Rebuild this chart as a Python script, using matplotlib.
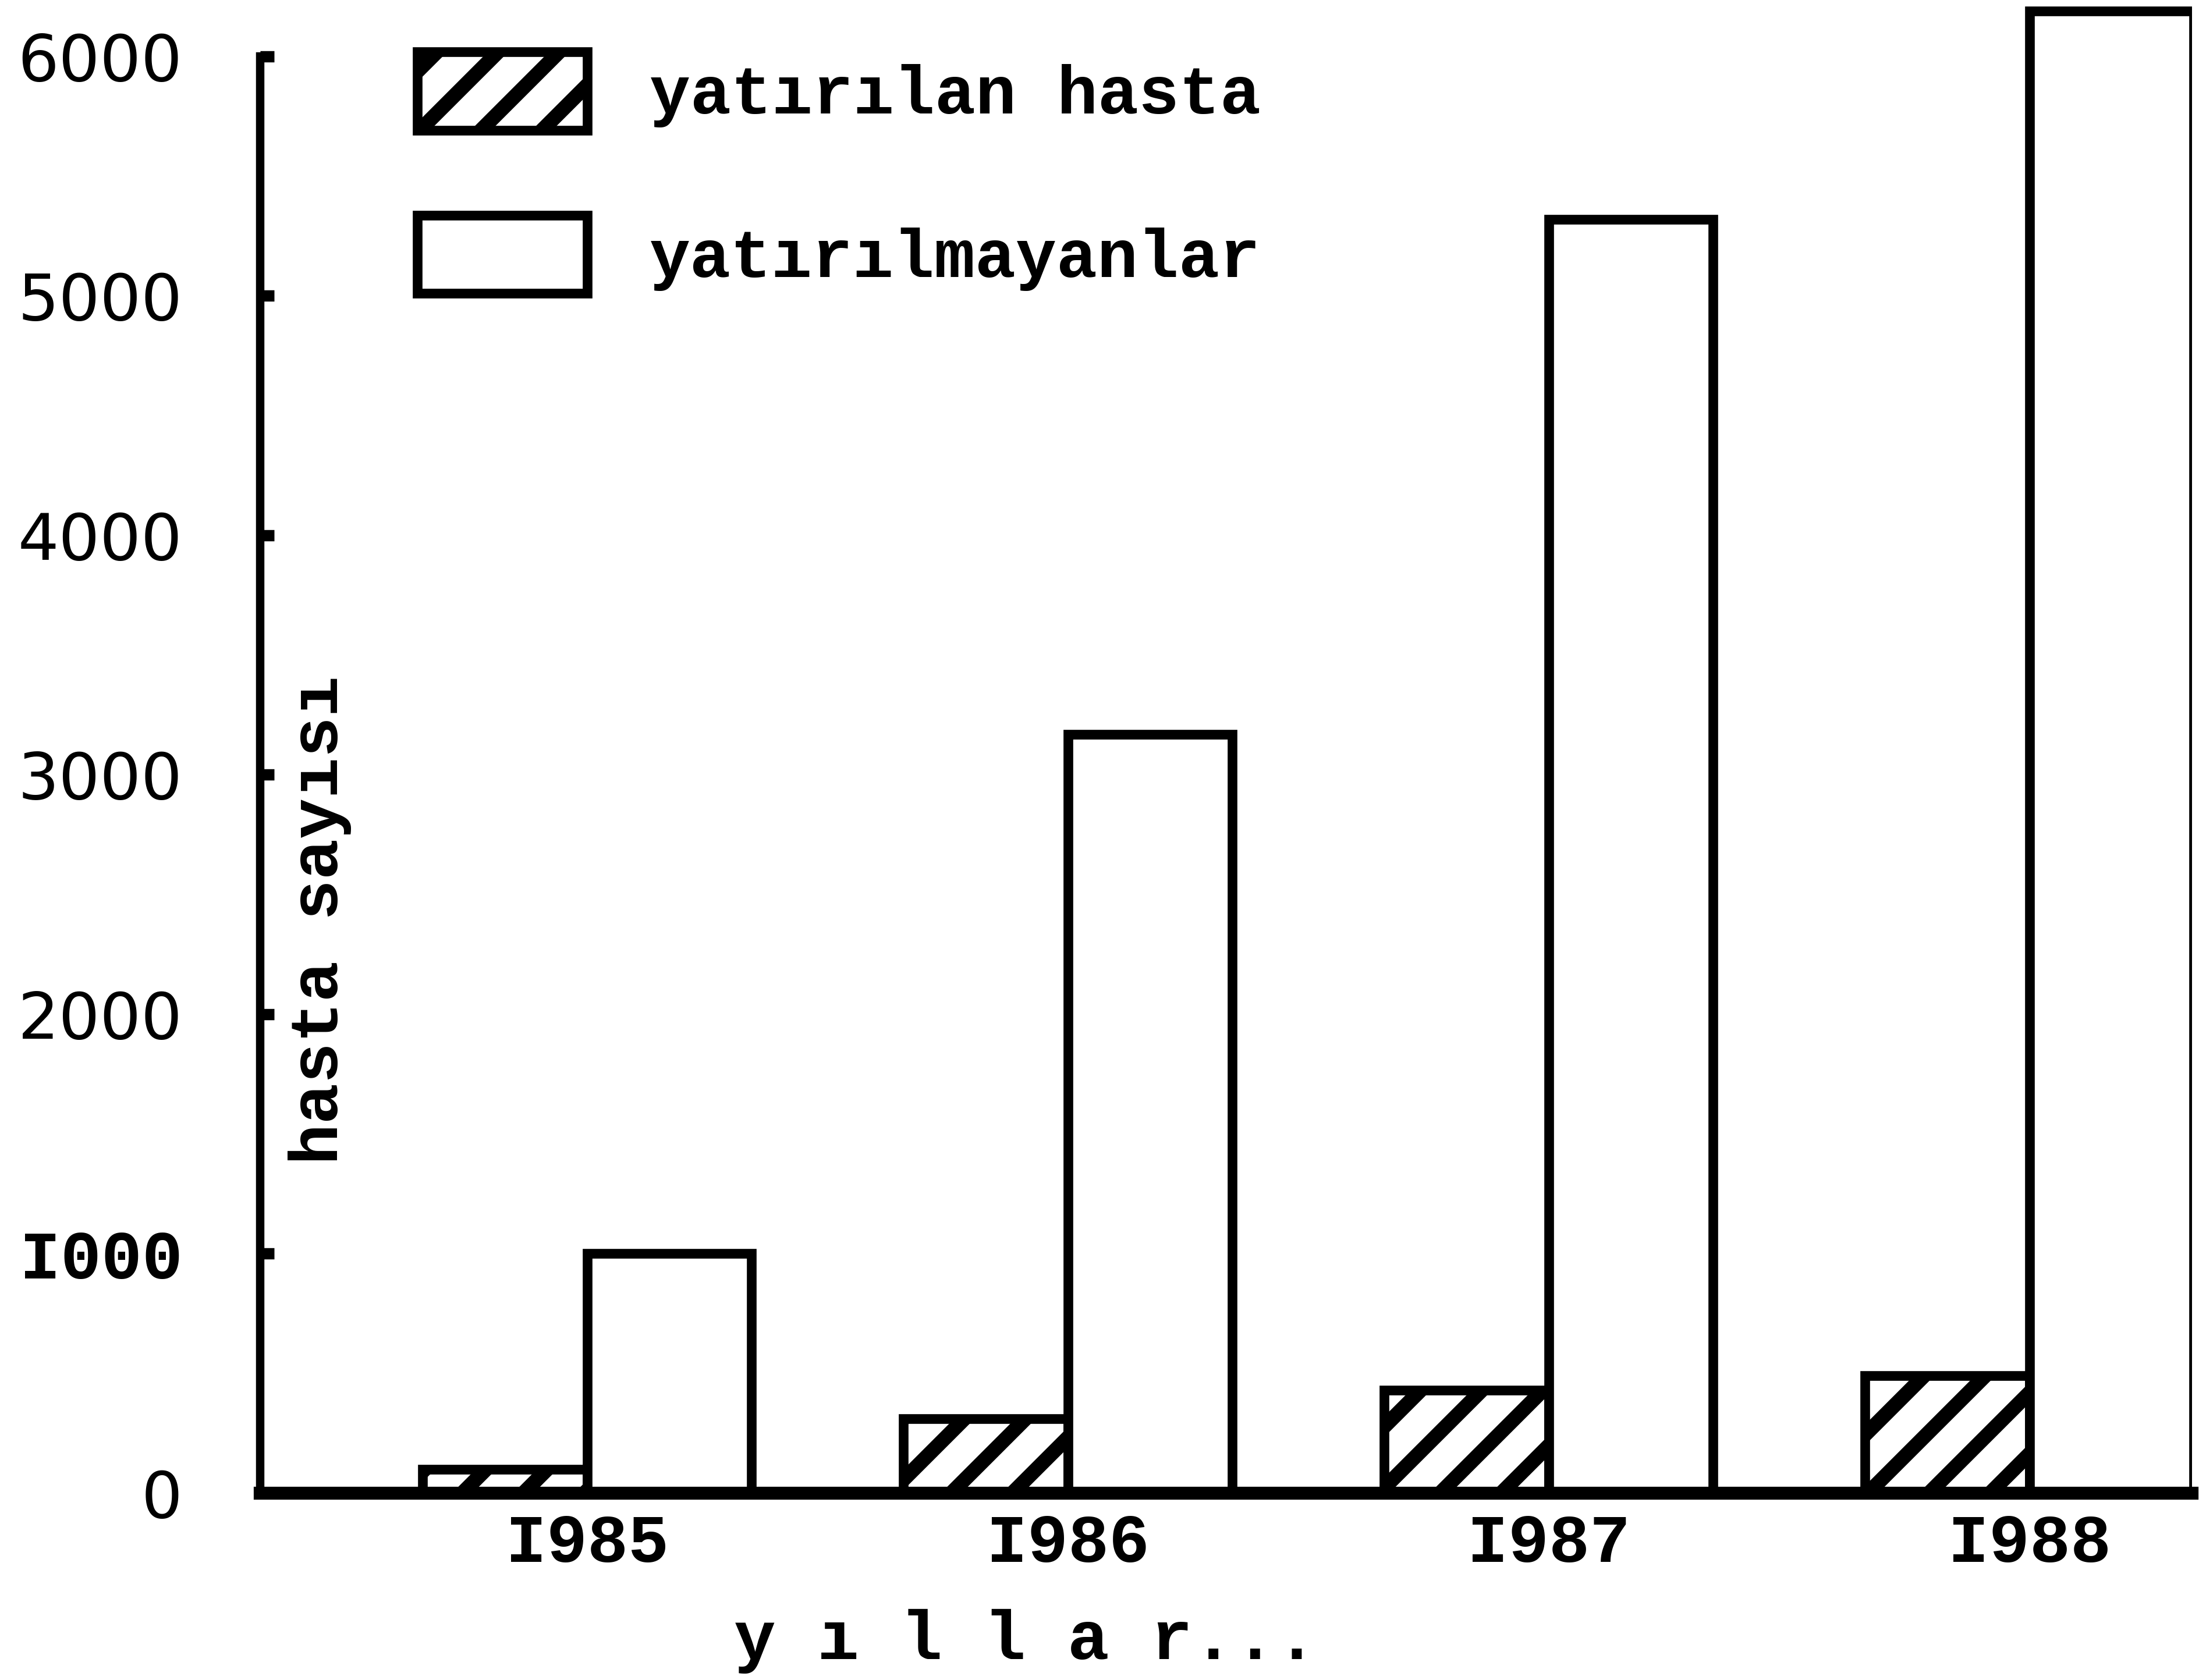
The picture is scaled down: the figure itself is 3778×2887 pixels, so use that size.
import matplotlib
matplotlib.use("Agg")
import matplotlib.pyplot as plt
import numpy as np

# data
years = ["I985", "I986", "I987", "I988"]
yatirilan = [100, 310, 430, 490]          # hatched bars
yatirilmayan = [1000, 3170, 5320, 6190]   # white bars
ytick_vals = [0, 1000, 2000, 3000, 4000, 5000, 6000]
ytick_labels = ["0", "I000", "2000", "3000", "4000", "5000", "6000"]

MONO = "Liberation Mono"
DPI = 630  # higher dpi -> wider hatch stripes, sizes below rescaled


def pt(v):
    # sizes were tuned at 400 dpi
    return v * 400 / DPI


plt.rcParams['hatch.linewidth'] = pt(4.5)
plt.rcParams['hatch.color'] = 'black'

fig = plt.figure(figsize=(3778 / DPI, 2887 / DPI), dpi=DPI)
ax = fig.add_axes([0.1183, 0.1112, 0.8785, 0.888])

x = np.arange(len(years))
w = 0.342

b1 = ax.bar(x - w / 2, yatirilan, w, color='white', edgecolor='black',
            linewidth=pt(3.0), hatch='//', label='yatırılan hasta')
b2 = ax.bar(x + w / 2, yatirilmayan, w, color='white', edgecolor='black',
            linewidth=pt(3.0), label='yatırılmayanlar')

ax.set_xlim(-0.680, 3.338)
ax.set_ylim(0, 6230)

# spines - only left and bottom like the hand drawn one
ax.spines['top'].set_visible(False)
ax.spines['right'].set_visible(False)
ax.spines['left'].set_linewidth(pt(2.6))
ax.spines['bottom'].set_linewidth(pt(4.0))
ax.spines['left'].set_bounds(0, 6000)

ax.set_yticks(ytick_vals)
ax.set_yticklabels(ytick_labels, fontsize=pt(20), family='DejaVu Sans')
ax.tick_params(axis='y', direction='in', length=pt(4.3), width=pt(3.5), pad=pt(24))
for lab in ax.get_yticklabels():
    if lab.get_text() == "I000":
        lab.set_family(MONO)
        lab.set_fontweight('bold')
        lab.set_fontsize(pt(21))

ax.set_xticks(x)
ax.set_xticklabels(years, fontsize=pt(21), family=MONO, fontweight='bold')
ax.tick_params(axis='x', length=0, pad=pt(6))

# axis titles placed like on the original paper
fig.text(550 / 3778, 1 - 1581 / 2887, "hasta sayısı", rotation=90,
         ha='center', va='center', fontsize=pt(21), family=MONO, fontweight='bold')
fig.text(1762 / 3778, 1 - 2820 / 2887, "y ı l l a r...",
         ha='center', va='center', fontsize=pt(21.5), family=MONO, fontweight='bold')

leg = ax.legend(handles=[b1, b2], loc='upper left',
                bbox_to_anchor=(717 / 3778, 1 - 89 / 2887),
                bbox_transform=fig.transFigure, frameon=False,
                prop={'family': MONO, 'weight': 'bold', 'size': pt(21)},
                handlelength=2.5, handleheight=1.4, handletextpad=0.92,
                labelspacing=1.25, borderpad=0, borderaxespad=0)

fig.savefig("out.png", dpi=DPI, facecolor='white')
